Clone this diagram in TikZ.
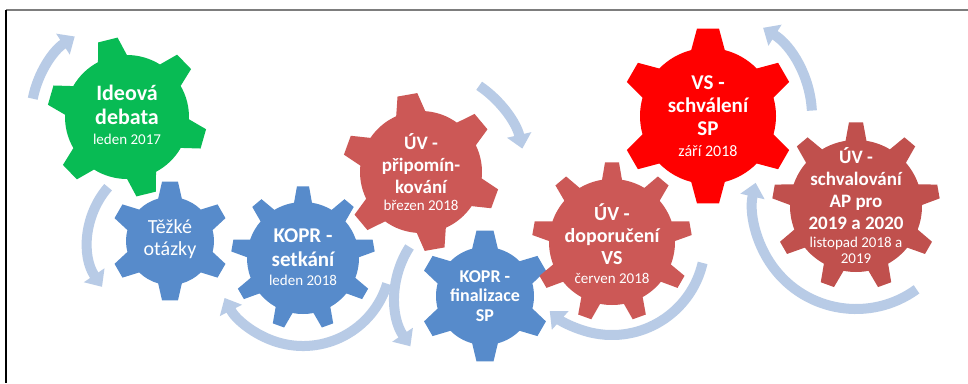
\documentclass[tikz,border=0pt]{standalone}
\usepackage{fontspec}
\setmainfont{Carlito}
\usetikzlibrary{arrows.meta}
\definecolor{ggreen}{RGB}{8,187,84}
\definecolor{gblue}{RGB}{87,139,203}
\definecolor{gred}{RGB}{204,88,86}
\definecolor{gdred}{RGB}{192,80,77}
\definecolor{gbright}{RGB}{255,0,0}
\definecolor{arrc}{RGB}{184,203,230}
\newcommand{\drawgear}[8]{%
  \fill[#8, shift={(#1)}] ({#7-#6}:#3)
   foreach \k in {1,...,#2} {
     -- ({#7+(\k-1)*360/#2-#5}:#4) -- ({#7+(\k-1)*360/#2+#5}:#4)
     -- ({#7+(\k-1)*360/#2+#6}:#3)
     arc[start angle={#7+(\k-1)*360/#2+#6}, end angle={#7+\k*360/#2-#6}, radius=#3]
   } -- cycle;}
\newcommand{\Bf}[2]{\bfseries\fontsize{#1}{#2}\selectfont}
\newcommand{\Rm}[1]{\mdseries\fontsize{#1}{#1}\selectfont}
\begin{document}
\begin{tikzpicture}[x=1pt,y=1pt,
  gtext/.style={text=white, align=center, inner sep=0pt},
  arr/.style={line width=10pt, draw=arrc, -{Triangle[width=24pt,length=14pt]}}]
\useasboundingbox (0,0) rectangle (968,-383);
\fill[white] (0,0) rectangle (968,-383);
% frame
\draw[line width=2pt, draw={rgb,255:red,125;green,125;blue,125}] (6,-10) -- (968,-10);
\draw[line width=2pt, black] (6,-10) -- (6,-383);
% centers
\coordinate (g1) at (127,-117);
\coordinate (g2) at (170,-241);
\coordinate (g3) at (303,-258);
\coordinate (g4) at (421,-172);
\coordinate (g5) at (485,-296);
\coordinate (g6) at (612,-242);
\coordinate (g7) at (708,-116);
\coordinate (g8) at (856,-206);
% arrows
\draw[arr] ([shift={(169:96pt)}]g1) arc[start angle=169, end angle=123, radius=96pt];
\draw[arr] ([shift={(139:82pt)}]g2) arc[start angle=139, end angle=214, radius=82pt];
\draw[arr] ([shift={(-17:88pt)}]g3) arc[start angle=-17, end angle=-153, radius=88pt];
\draw[arr] ([shift={(56:104pt)}]g4) arc[start angle=56, end angle=13, radius=104pt];
\draw[arr] ([shift={(147:90pt)}]g5) arc[start angle=147, end angle=214, radius=90pt];
\draw[arr] ([shift={(-13:93pt)}]g6) arc[start angle=-13, end angle=-132, radius=93pt];
\draw[arr] ([shift={(3:104pt)}]g7) arc[start angle=3, end angle=58, radius=104pt];
\draw[arr] ([shift={(-54:103pt)}]g8) arc[start angle=-54, end angle=-193, radius=103pt];
% gears
\drawgear{g1}{6}{62pt}{80pt}{7.2}{13.9}{44}{ggreen}
\drawgear{g2}{6}{44pt}{60pt}{7.6}{15.6}{30}{gblue}
\drawgear{g3}{9}{56pt}{72pt}{4.8}{9.2}{90}{gblue}
\drawgear{g4}{6}{61pt}{79pt}{7.3}{14}{40}{gred}
\drawgear{g5}{6}{49pt}{66pt}{7.4}{15.2}{30}{gblue}
\drawgear{g6}{9}{63pt}{80pt}{5}{9.1}{90}{gred}
\drawgear{g7}{6}{68pt}{88pt}{7.2}{14.3}{30}{gbright}
\drawgear{g8}{9}{66pt}{84pt}{4.8}{9.1}{90}{gdred}
% texts
\node[gtext, font=\Bf{22}{24}] (t1) at ([yshift=2pt]g1) {Ideová\\debata\\[-4pt]\Rm{15}leden 2017};
\node[gtext, font=\Rm{20}\mdseries\fontsize{20}{22}\selectfont] (t2) at ([yshift=2pt]g2) {Těžké\\otázky};
\node[gtext, font=\Bf{21}{24}] (t3) at ([yshift=1pt]g3) {KOPR -\\setkání\\[-5pt]\Rm{15}leden 2018};
\node[gtext, font=\Bf{19}{22}] (t4) at ([yshift=0pt]g4) {ÚV -\\připomín-\\kování\\[-5pt]\Rm{15}březen 2018};
\node[gtext, font=\Bf{18}{19.5}] (t5) at ([yshift=0pt]g5) {KOPR -\\finalizace\\SP};
\node[gtext, font=\Bf{20}{22}] (t6) at ([yshift=-2pt]g6) {ÚV -\\doporučení\\VS\\[-3pt]\Rm{15}červen 2018};
\node[gtext, font=\Bf{21}{23}] (t7) at ([yshift=0pt]g7) {VS -\\schválení\\SP\\[-2pt]\Rm{16}září 2018};
\node[gtext, font=\Bf{19}{22}] (t8) at ([yshift=0pt]g8) {ÚV -\\schvalování\\AP pro\\2019 a 2020\\[-4pt]\Rm{15}listopad 2018 a\\[-6pt]\Rm{15}2019};
\end{tikzpicture}
\end{document}
